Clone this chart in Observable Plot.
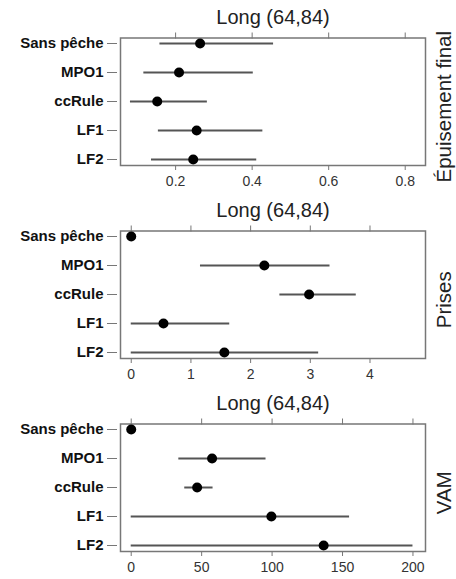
<!DOCTYPE html>
<html><head><meta charset="utf-8">
<script src="https://cdn.jsdelivr.net/npm/d3@7"></script>
<script src="https://cdn.jsdelivr.net/npm/@observablehq/plot@0.6"></script>
<style>
body{margin:0;background:#fff;font-family:"Liberation Sans",Arial,sans-serif}
svg{display:block}
</style>
</head><body><div id="chart"></div>
<script>
const categories = ["Sans pêche","MPO1","ccRule","LF1","LF2"];
const panelTitle = "Long (64,84)";
const metricNames = ["Épuisement final","Prises","VAM"];

const epuisementMid  = [0.264,0.209,0.152,0.255,0.246];
const epuisementLow  = [0.159,0.117,0.082,0.155,0.137];
const epuisementHigh = [0.456,0.403,0.283,0.428,0.412];

const prisesMid  = [0,2.23,2.98,0.54,1.56];
const prisesLow  = [0,1.16,2.49,0,0];
const prisesHigh = [0,3.33,3.77,1.65,3.14];

const vamMid  = [0,57.4,46.8,99.5,136.6];
const vamLow  = [0,33.8,38,0,0];
const vamHigh = [0,95.7,58.1,155,200];

const epuisementTicks = [0.2,0.4,0.6,0.8];
const prisesTicks = [0,1,2,3,4];
const vamTicks = [0,50,100,150,200];

const epuisementDomain = [0.056,0.853];
const prisesDomain = [-0.18,4.93];
const vamDomain = [-7.6,208.9];

const FONT = '"Liberation Sans", Arial, Helvetica, sans-serif';
const fmt = d3.format("~g");

function panel(name, mid, low, high, ticks, domain) {
  const rows = categories.map((c,i)=>({cat:c, mid:mid[i], low:low[i], high:high[i]}));
  return Plot.plot({
    width:456, height:193, marginTop:37.5, marginBottom:28, marginLeft:120, marginRight:31,
    style:{fontFamily:FONT, fontSize:"14px", color:"#222", overflow:"visible", background:"#fff"},
    x:{domain, ticks},
    y:{type:"point", domain:categories, padding:0.17},
    marks:[
      Plot.frame({stroke:"#777", strokeWidth:1.5}),
      Plot.ruleX([domain[0]], {y1:categories[0], y2:categories[categories.length-1], dx:-3, stroke:"#777", strokeWidth:1.5}),
      Plot.axisX({anchor:"bottom", ticks, tickFormat:fmt, tickSize:5, tickPadding:6, fontSize:14, fontFamily:FONT, label:null, stroke:"#777", fill:"#333"}),
      Plot.axisX({anchor:"top", ticks, tickSize:6, tickFormat:()=>"", label:null, stroke:"#777"}),
      Plot.axisY({anchor:"left", tickSize:10, tickPadding:4, dx:-3, fontWeight:"bold", fontSize:15, fontFamily:FONT, label:null, stroke:"#777", fill:"#111"}),
      Plot.ruleY(rows, {y:"cat", x1:"low", x2:"high", stroke:"#555", strokeWidth:2}),
      Plot.dot(rows, {y:"cat", x:"mid", r:5, fill:"#000", stroke:"none"}),
      Plot.text([panelTitle], {frameAnchor:"top", lineAnchor:"middle", textAnchor:"middle", dy:-20, fontSize:20, fontFamily:FONT, fill:"#222"}),
      Plot.text([name], {frameAnchor:"right", textAnchor:"middle", lineAnchor:"middle", rotate:-90, dx:19, dy:5, fontSize:20.5, fontFamily:FONT, fill:"#222"})
    ]
  });
}

const chart = document.getElementById("chart");
chart.appendChild(panel(metricNames[0], epuisementMid, epuisementLow, epuisementHigh, epuisementTicks, epuisementDomain));
chart.appendChild(panel(metricNames[1], prisesMid, prisesLow, prisesHigh, prisesTicks, prisesDomain));
chart.appendChild(panel(metricNames[2], vamMid, vamLow, vamHigh, vamTicks, vamDomain));
</script>
</body></html>
